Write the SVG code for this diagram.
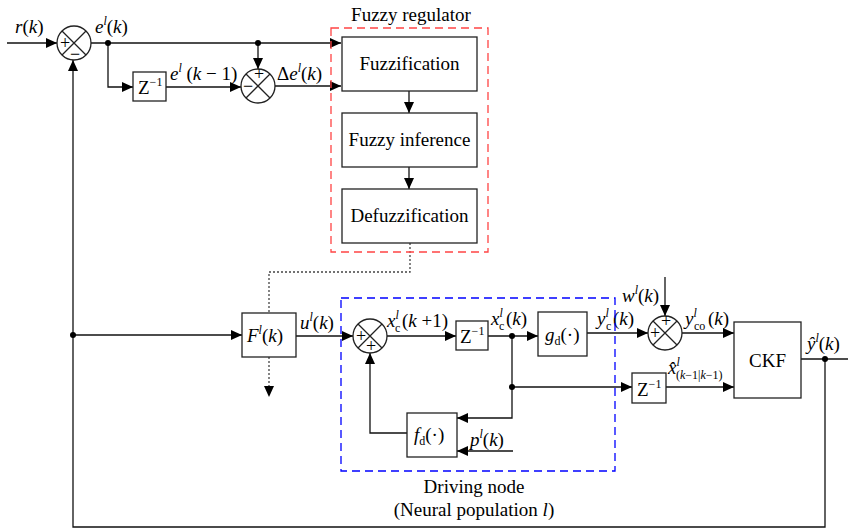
<svg xmlns="http://www.w3.org/2000/svg" width="848" height="530" viewBox="0 0 848 530">
<style>
.lb{font-family:"Liberation Serif";font-size:19px;fill:#000}
.m{font-family:"Liberation Serif";font-size:19px;fill:#000}
.sg{font-family:"Liberation Serif";font-size:18px;text-anchor:middle;fill:#000}
.i{font-style:italic}
.s{font-size:12px}
.box{fill:#fff;stroke:#222;stroke-width:1.3}
.w{fill:none;stroke:#111;stroke-width:1.3}
.dot{fill:#000}
</style>
<defs>
<marker id="a" markerUnits="userSpaceOnUse" markerWidth="12" markerHeight="10" refX="11" refY="5" orient="auto"><path d="M0,0 L11,5 L0,10 z" fill="#000"/></marker>
<g id="sum"><circle cx="0" cy="0" r="17" fill="#fff" stroke="#222" stroke-width="1.3"/><path d="M-12,-12 L12,12 M12,-12 L-12,12" stroke="#222" stroke-width="1.3"/></g>
</defs>

<g id="connectors">
<path class="w" d="M7,43 H57" marker-end="url(#a)"/>
<path class="w" d="M91,43 H341" marker-end="url(#a)"/>
<path class="w" d="M108,43 V87 H133" marker-end="url(#a)"/>
<path class="w" d="M166,87 H241" marker-end="url(#a)"/>
<path class="w" d="M258,43 V69" marker-end="url(#a)"/>
<path class="w" d="M275,86 H341" marker-end="url(#a)"/>
<path class="w" d="M409,91 V113" marker-end="url(#a)"/>
<path class="w" d="M409,167 V189" marker-end="url(#a)"/>
<path d="M410,243 V272 H269 V313" fill="none" stroke="#444" stroke-width="1.3" stroke-dasharray="2,2"/>
<path d="M269,357 V397" fill="none" stroke="#444" stroke-width="1.3" stroke-dasharray="2,2" marker-end="url(#a)"/>
<path class="w" d="M801,359 H848"/>
<path class="w" d="M825,359 V527 H73 V60" marker-end="url(#a)"/>
<path class="w" d="M73,335 H242" marker-end="url(#a)"/>
<path class="w" d="M296,336 H353" marker-end="url(#a)"/>
<path class="w" d="M387,336 H456" marker-end="url(#a)"/>
<path class="w" d="M488,336 H538" marker-end="url(#a)"/>
<path class="w" d="M512,336 V418 H457" marker-end="url(#a)"/>
<path class="w" d="M512,387 H632" marker-end="url(#a)"/>
<path class="w" d="M513,451 H457" marker-end="url(#a)"/>
<path class="w" d="M407,433 H370 V353" marker-end="url(#a)"/>
<path class="w" d="M587,333 H648" marker-end="url(#a)"/>
<path class="w" d="M665,277 V316" marker-end="url(#a)"/>
<path class="w" d="M682,333 H734" marker-end="url(#a)"/>
<path class="w" d="M666,387 H734" marker-end="url(#a)"/>
<circle class="dot" cx="108" cy="43" r="3"/>
<circle class="dot" cx="258" cy="43" r="3"/>
<circle class="dot" cx="73" cy="335" r="3"/>
<circle class="dot" cx="512" cy="336" r="3"/>
<circle class="dot" cx="512" cy="387" r="3"/>
<circle class="dot" cx="825" cy="359" r="3"/>
</g>

<g id="labels">
<text class="m" x="15" y="33"><tspan class="i">r</tspan>(<tspan class="i">k</tspan>)</text>
<text class="m" x="95" y="33"><tspan class="i">e</tspan><tspan class="i s" dy="-8">l</tspan><tspan dy="8">(</tspan><tspan class="i">k</tspan>)</text>
<text class="m" x="170" y="80"><tspan class="i">e</tspan><tspan class="i s" dy="-8">l</tspan><tspan dy="8"> (</tspan><tspan class="i">k</tspan> − 1)</text>
<text class="m" x="277" y="80">Δ<tspan class="i">e</tspan><tspan class="i s" dy="-8">l</tspan><tspan dy="8">(</tspan><tspan class="i">k</tspan>)</text>
<text class="m" x="300" y="329"><tspan class="i">u</tspan><tspan class="i s" dy="-8">l</tspan><tspan dy="8">(</tspan><tspan class="i">k</tspan>)</text>
<text class="m" x="387" y="327"><tspan class="i">x</tspan><tspan class="i s" dy="-8">l</tspan><tspan class="s" x="395" dy="13">c</tspan><tspan x="402" dy="-5">(</tspan><tspan class="i">k</tspan> +1)</text>
<text class="m" x="491" y="325"><tspan class="i">x</tspan><tspan class="i s" dy="-8">l</tspan><tspan class="s" x="499" dy="13">c</tspan><tspan x="506" dy="-5">(</tspan><tspan class="i">k</tspan>)</text>
<text class="m" x="597" y="325"><tspan class="i">y</tspan><tspan class="i s" dy="-8">l</tspan><tspan class="s" x="606" dy="13">c</tspan><tspan x="613" dy="-5">(</tspan><tspan class="i">k</tspan>)</text>
<text class="m" x="622" y="302"><tspan class="i">w</tspan><tspan class="i s" dy="-8">l</tspan><tspan dy="8">(</tspan><tspan class="i">k</tspan>)</text>
<text class="m" x="685" y="325"><tspan class="i">y</tspan><tspan class="i s" dy="-8">l</tspan><tspan class="s" x="694" dy="13">co</tspan><tspan x="708" dy="-5">(</tspan><tspan class="i">k</tspan>)</text>
<text class="m" x="668" y="374"><tspan class="i">x̂</tspan><tspan class="i s" dy="-8">l</tspan><tspan class="s" x="676" dy="13">(<tspan class="i">k</tspan>−1|<tspan class="i">k</tspan>−1)</tspan></text>
<text class="m" x="807" y="350"><tspan class="i">ŷ</tspan><tspan class="i s" dy="-8">l</tspan><tspan dy="8">(</tspan><tspan class="i">k</tspan>)</text>
<text class="m" x="470" y="446"><tspan class="i">p</tspan><tspan class="i s" dy="-8">l</tspan><tspan dy="8">(</tspan><tspan class="i">k</tspan>)</text>
<text class="lb" x="411" y="21" text-anchor="middle">Fuzzy regulator</text>
<text class="lb" x="474" y="493" text-anchor="middle">Driving node</text>
<text class="lb" x="474" y="516" text-anchor="middle">(Neural population <tspan class="i">l</tspan>)</text>
</g>

<g id="fuzzy-regulator">
<rect x="331" y="28" width="157" height="224" fill="none" stroke="#f44" stroke-width="1.3" stroke-dasharray="8,5"/>
</g>
<g id="driving-node">
<rect x="341" y="298" width="274" height="173" fill="none" stroke="#00f" stroke-width="1.3" stroke-dasharray="8,5"/>
</g>

<g id="sum1"><use href="#sum" x="74" y="43"/><text class="sg" x="65" y="49">+</text><text class="sg" x="75" y="60">−</text></g>
<g id="sum2"><use href="#sum" x="258" y="86"/><text class="sg" x="259" y="80">+</text><text class="sg" x="248" y="92">−</text></g>
<g id="sum3"><use href="#sum" x="370" y="336"/><text class="sg" x="361" y="342">+</text><text class="sg" x="371" y="352">+</text></g>
<g id="sum4"><use href="#sum" x="665" y="333"/><text class="sg" x="666" y="327">+</text><text class="sg" x="655" y="339">+</text></g>

<g id="z1"><rect class="box" x="133" y="72" width="33" height="29"/><text class="m" x="138" y="94">Z<tspan class="s" dy="-8">−1</tspan></text></g>
<g id="fuzzification"><rect class="box" x="342" y="37" width="135" height="54"/><text class="lb" x="409.5" y="70" text-anchor="middle">Fuzzification</text></g>
<g id="fuzzy-inference"><rect class="box" x="342" y="113" width="135" height="54"/><text class="lb" x="409.5" y="146" text-anchor="middle">Fuzzy inference</text></g>
<g id="defuzzification"><rect class="box" x="342" y="189" width="135" height="54"/><text class="lb" x="409.5" y="222" text-anchor="middle">Defuzzification</text></g>
<g id="F"><rect class="box" x="242" y="313" width="54" height="44"/><text class="m" x="247" y="342"><tspan class="i">F</tspan><tspan class="i s" dy="-8">l</tspan><tspan dy="8">(</tspan><tspan class="i">k</tspan>)</text></g>
<g id="z2"><rect class="box" x="456" y="321" width="32" height="29"/><text class="m" x="460" y="343">Z<tspan class="s" dy="-8">−1</tspan></text></g>
<g id="gd"><rect class="box" x="538" y="312" width="49" height="44"/><text class="m" x="545" y="341"><tspan class="i">g</tspan><tspan class="s" dy="4">d</tspan><tspan dy="-4">(·)</tspan></text></g>
<g id="fd"><rect class="box" x="407" y="413" width="50" height="44"/><text class="m" x="414" y="441"><tspan class="i">f</tspan><tspan class="s" dy="4">d</tspan><tspan dy="-4">(·)</tspan></text></g>
<g id="z3"><rect class="box" x="632" y="373" width="34" height="30"/><text class="m" x="637" y="396">Z<tspan class="s" dy="-8">−1</tspan></text></g>
<g id="ckf"><rect class="box" x="734" y="322" width="67" height="76"/><text class="m" x="767.5" y="367" text-anchor="middle" font-size="20">CKF</text></g>
</svg>
